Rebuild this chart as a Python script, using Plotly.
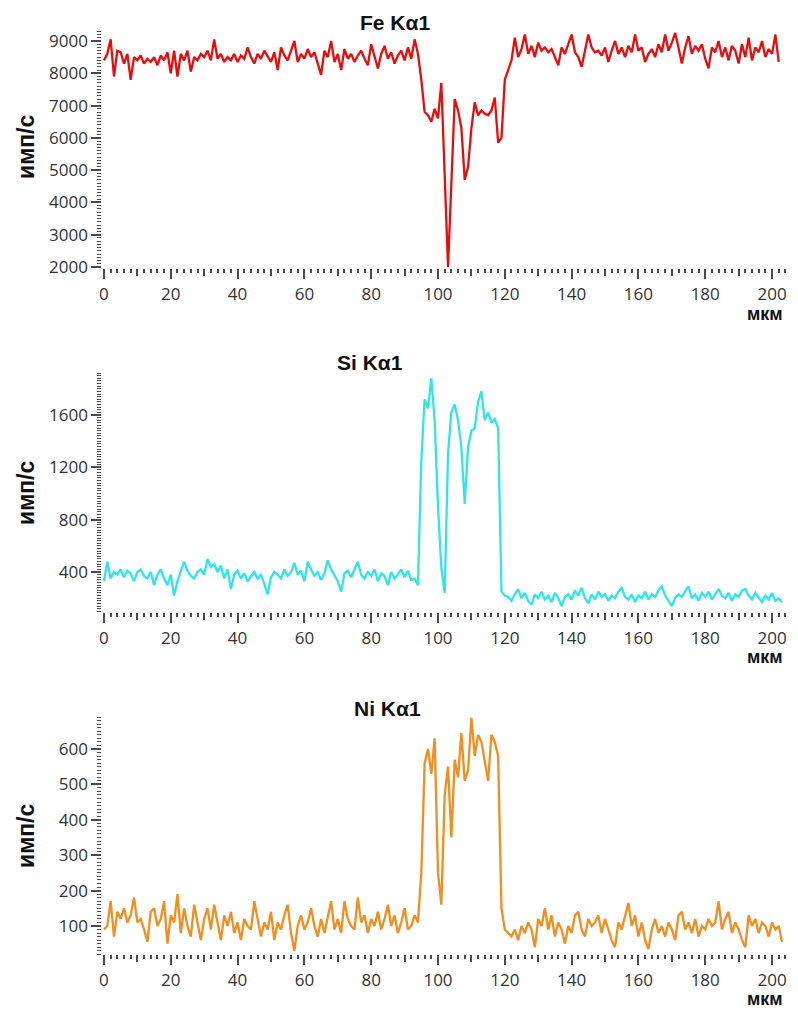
import plotly.graph_objects as go

# ---------------- data ----------------
x_um = list(range(0, 204))

fe_counts = [
    8400, 8600, 9050, 7900, 8700, 8650, 8300, 8600, 7800, 8500,
    8400, 8550, 8300, 8450, 8350, 8500, 8250, 8550, 8400, 8650,
    8000, 8700, 7900, 8600, 8400, 8700, 8050, 8500, 8400, 8600,
    8500, 8700, 8400, 9050, 8450, 8600, 8350, 8500, 8400, 8600,
    8350, 8550, 8450, 8800, 8500, 8300, 8600, 8450, 8700, 8500,
    8350, 8650, 8100, 8800, 8550, 8400, 8700, 9000, 8350, 8600,
    8450, 8750, 8500, 8650, 8300, 7950, 8700, 8500, 9000, 8350,
    8600, 8100, 8750, 8450, 8600, 8350, 8550, 8700, 8450, 8250,
    8900, 8550, 8150, 8600, 8850, 8450, 8650, 8300, 8550, 8700,
    8400, 8800, 8450, 9050, 8600,
    7800, 6800, 6700, 6500, 6900,
    6600, 7700, 4500, 2000, 4600, 7200, 6850, 6300, 4700, 5100,
    6300, 7100, 6700, 6850, 6750, 6700, 6850, 7250, 5850, 6000,
    7800, 8100, 8400, 9100,
    8500, 8750, 9200, 8600, 8850, 8500, 8950, 8700, 8800, 8650,
    8750, 8500, 8250, 8800, 8600, 8900, 9200, 8650, 8500, 8200,
    8750, 9200, 8800, 8650, 8700, 8550, 8800, 8350, 8700, 9000,
    8600, 8800, 8500, 8850, 8650, 9200, 8700, 8800, 8350, 8600,
    8750, 8500, 8900, 8650, 9200, 8700, 8950, 9250, 8800, 8300,
    8800, 9150, 8600, 8850, 8700, 8900, 8450, 8150, 8800, 8650,
    9000, 8500, 8800, 8400, 8850, 8700, 8300, 8900, 8500, 9100,
    8400, 8800, 8650, 9000, 8500, 8750, 8600, 9200, 8350,
]

si_counts = [
    330, 480, 350, 400, 380, 420, 360, 410, 390, 330,
    400, 420, 370, 350, 400, 300, 380, 420, 350, 300,
    380, 220, 330, 400, 480, 410, 370, 350, 400, 420,
    380, 500, 440, 460, 400, 450, 350, 420, 270, 380,
    410, 350, 390, 330, 370, 400, 350, 380, 310, 230,
    360, 400, 380, 350, 420, 370, 400, 470, 380, 410,
    330, 480, 420, 370, 400, 340, 390, 490, 420, 380,
    330, 250, 390, 410, 360, 420, 480, 380, 350, 400,
    370, 420, 330, 390, 370, 300, 400, 350, 380, 420,
    360, 410, 340, 350, 300,
    1250, 1720, 1650, 1880, 1560,
    900, 430, 240, 1300, 1620, 1680, 1560, 1350, 920, 1350,
    1480, 1500, 1700, 1780, 1560, 1620, 1540, 1570, 1500, 250,
    220, 210, 180, 230, 270, 200, 240, 180, 150, 230,
    200, 250, 190, 220, 170, 240, 200, 140, 210, 230,
    190, 260, 220, 280, 200, 160, 230, 190, 250, 210,
    230, 180, 220, 200, 250, 280, 210, 190, 230, 170,
    220, 200, 250, 190, 230, 210, 260, 290, 220, 180,
    140, 200, 230, 210, 250, 290, 200, 230, 180, 240,
    210, 250, 190, 230, 270, 220, 200, 240, 180, 230,
    210, 260, 270, 220, 190, 240, 200, 170, 220, 190,
    240, 180, 200, 170,
]

ni_counts = [
    90, 100, 170, 70, 140, 120, 150, 110, 130, 180,
    110, 120, 90, 55, 140, 150, 100, 120, 170, 50,
    130, 110, 190, 80, 150, 100, 70, 160, 110, 60,
    120, 150, 90, 160, 110, 60, 130, 100, 140, 80,
    110, 60, 120, 100, 90, 170, 120, 70, 110, 90,
    140, 60, 110, 90, 130, 160, 80, 30, 100, 130,
    90, 110, 150, 100, 70, 120, 80, 130, 170, 90,
    120, 80, 170, 120, 100, 90, 180, 110, 130, 80,
    120, 100, 140, 90, 120, 160, 100, 130, 80, 110,
    150, 90, 100, 130, 110,
    250, 560, 600, 530, 630,
    250, 160, 470, 550, 350, 570, 520, 645, 510, 540,
    688, 580, 640, 620, 570, 510, 640, 620, 580, 150,
    90,
    80, 70, 90, 60, 100, 80, 110, 90, 40, 120,
    100, 150, 90, 130, 70, 110, 90, 50, 100, 80,
    130, 140, 90, 70, 120, 100, 110, 130, 80, 120,
    90, 60, 40, 110, 90, 130, 165, 100, 130, 70,
    110, 60, 35, 90, 120, 80, 100, 70, 110, 90,
    60, 130, 140, 90, 110, 80, 120, 70, 100, 90,
    120, 100, 110, 170, 90, 120, 140, 80, 110, 90,
    60, 40, 130, 100, 120, 80, 110, 100, 70, 110,
    90, 100, 55,
]

panel_titles = ["Fe Kα1", "Si Kα1", "Ni Kα1"]
y_label = "имп/с"
x_label = "мкм"
x_ticks = [0, 20, 40, 60, 80, 100, 120, 140, 160, 180, 200]
x_mid_ticks = [10, 30, 50, 70, 90, 110, 130, 150, 170, 190]
fe_ticks = [2000, 3000, 4000, 5000, 6000, 7000, 8000, 9000]
si_ticks = [400, 800, 1200, 1600]
ni_ticks = [100, 200, 300, 400, 500, 600]

# ---------------- styling / layout ----------------
W, H = 798, 1010
def fx(px):
    return px / W
def fy(py):
    return 1 - py / H

colors = ["#ec0a0a", "#2ee6ea", "#f58c1e"]
tick_col = "#4a4a4a"
tick_font = dict(family="Open Sans, Noto Sans, sans-serif", size=17, color="#333333")
lbl_font = dict(family="Liberation Sans, Arial, sans-serif", size=23, color="#111111")
unit_font = dict(family="Liberation Sans, Arial, sans-serif", size=18, color="#111111")
ttl_font = dict(family="Liberation Sans, Arial, sans-serif", size=21, color="#111111")

x_dom = [fx(102.3), fx(785.4)]
x_range = [-0.5, 204]

panels = [
    dict(y=fe_counts, yr=[1960, 9340], pd=(30, 268.3), ticks=fe_ticks, minor=100,
         tpos=(395, 22), ypos=(26, 147), upos=(765, 314)),
    dict(y=si_counts, yr=[94, 1930], pd=(371.8, 612.1), ticks=si_ticks, minor=20,
         tpos=(370, 362), ypos=(26, 493), upos=(765, 657)),
    dict(y=ni_counts, yr=[20, 692], pd=(716.4, 954.3), ticks=ni_ticks, minor=10,
         tpos=(387, 708), ypos=(26, 836), upos=(765, 999)),
]

fig = go.Figure()
layout = dict(
    width=W, height=H,
    margin=dict(l=0, r=0, t=0, b=0, autoexpand=False),
    paper_bgcolor="white", plot_bgcolor="white",
    showlegend=False,
)
annotations = []

for i, p in enumerate(panels):
    n = i + 1
    xa = "x" if n == 1 else f"x{n}"
    ya = "y" if n == 1 else f"y{n}"
    fig.add_trace(go.Scatter(x=x_um, y=p["y"], mode="lines", xaxis=xa, yaxis=ya,
                             line=dict(color=colors[i], width=2.3), hoverinfo="skip"))
    m = n + 3
    fig.add_trace(go.Scatter(x=[None], y=[None], xaxis=f"x{m}", yaxis=ya,
                             showlegend=False, hoverinfo="skip"))
    ydom = [fy(p["pd"][1]), fy(p["pd"][0])]
    layout[f"xaxis{'' if n == 1 else n}"] = dict(
        domain=x_dom, range=x_range, anchor=ya,
        showgrid=False, zeroline=False, showline=False,
        tickmode="array", tickvals=x_ticks, ticks="outside", ticklen=10, tickwidth=1.5,
        tickcolor=tick_col, tickfont=tick_font,
        minor=dict(dtick=2, tick0=0, ticks="outside", ticklen=4, tickwidth=1.5,
                   tickcolor=tick_col, showgrid=False),
    )
    layout[f"xaxis{m}"] = dict(
        domain=x_dom, range=x_range, anchor=ya, overlaying=xa,
        showgrid=False, zeroline=False, showline=False, showticklabels=False,
        tickmode="array", tickvals=x_mid_ticks, ticks="outside", ticklen=7, tickwidth=1.5,
        tickcolor=tick_col,
    )
    layout[f"yaxis{'' if n == 1 else n}"] = dict(
        domain=ydom, range=p["yr"], anchor=xa,
        showgrid=False, zeroline=False, showline=False,
        tickmode="array", tickvals=p["ticks"], ticks="outside", ticklen=10, tickwidth=1.5,
        tickcolor=tick_col, tickfont=tick_font,
        minor=dict(dtick=p["minor"], tick0=0, ticks="outside", ticklen=4, tickwidth=1.2,
                   tickcolor=tick_col, showgrid=False),
    )
    annotations.append(dict(text=f"<b>{panel_titles[i]}</b>", x=fx(p["tpos"][0]), y=fy(p["tpos"][1]),
                            xref="paper", yref="paper", showarrow=False, font=ttl_font,
                            xanchor="center", yanchor="middle"))
    annotations.append(dict(text=f"<b>{y_label}</b>", x=fx(p["ypos"][0]), y=fy(p["ypos"][1]),
                            xref="paper", yref="paper", showarrow=False, font=lbl_font,
                            textangle=-90, xanchor="center", yanchor="middle"))
    annotations.append(dict(text=f"<b>{x_label}</b>", x=fx(p["upos"][0]), y=fy(p["upos"][1]),
                            xref="paper", yref="paper", showarrow=False, font=unit_font,
                            borderpad=0, xanchor="center", yanchor="middle"))

layout["annotations"] = annotations
fig.update_layout(**layout)
fig.write_html("out.html", config={"displayModeBar": False},
               post_script="document.body.style.margin='0px';document.body.style.overflow='hidden';")
